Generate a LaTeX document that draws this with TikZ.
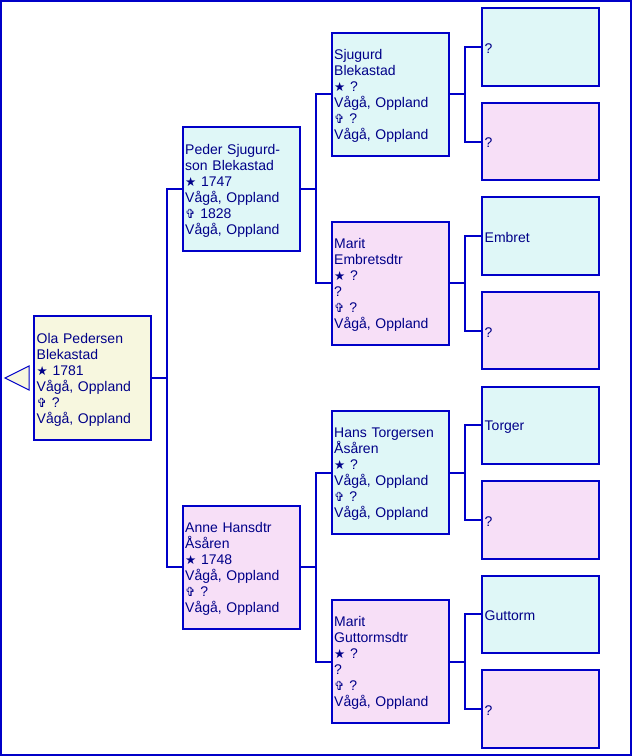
\documentclass[tikz,border=0pt]{standalone}
\usepackage{fontspec}
\setmainfont{Liberation Sans}
\newfontfamily\symfont{DejaVu Sans}
\definecolor{lineblue}{HTML}{0000C8}
\definecolor{txtblue}{HTML}{000088}
\definecolor{cyanfill}{HTML}{DFF7F7}
\definecolor{pinkfill}{HTML}{F7DFF7}
\definecolor{creamfill}{HTML}{F7F7DF}
\newcommand{\bstar}{{\symfont\fontsize{12.5}{16}\selectfont ★}}
\newcommand{\dcross}{{\symfont\fontsize{12.5}{16}\selectfont ✞}}
\newcommand{\person}[4]{%
  \node[#3] (#1) at #2 {};
  \node[ptext] (#1-t) at (#1.west) {#4};}
\begin{document}
\begin{tikzpicture}[x=1pt,y=-1pt,
  box/.style={draw=lineblue, line width=2pt, minimum width=117pt, inner sep=0pt},
  ptext/.style={anchor=west, text width=112pt, inner xsep=3.5pt, inner ysep=0pt, yshift=-1.5pt,
    align=left, font=\fontsize{14}{16}\selectfont, text=txtblue},
  big/.style={box, minimum height=123.4pt},
  small/.style={box, minimum height=77.4pt},
  male/.style={fill=cyanfill}, female/.style={fill=pinkfill}, rootc/.style={fill=creamfill},
  link/.style={draw=lineblue, line width=2pt}]
\useasboundingbox (0,0) rectangle (632,756);
\draw[lineblue, line width=2pt] (1,1) rectangle (631,755);
% triangle marker
\draw[lineblue, line width=1pt, fill=creamfill] (5,378) -- (29,366) -- (29,390) -- cycle;
% root
\person{root}{(92.5,378)}{big, rootc}{Ola Pedersen\\Blekastad\\\bstar\ 1781\\Vågå, Oppland\\\dcross\ ?\\Vågå, Oppland}
% generation 1
\person{p1}{(241,188.9)}{big, male}{Peder Sjugurd-\\son Blekastad\\\bstar\ 1747\\Vågå, Oppland\\\dcross\ 1828\\Vågå, Oppland}
\person{p2}{(241,567.2)}{big, female}{Anne Hansdtr\\Åsåren\\\bstar\ 1748\\Vågå, Oppland\\\dcross\ ?\\Vågå, Oppland}
% generation 2
\person{g1}{(390,94.3)}{big, male}{Sjugurd\\Blekastad\\\bstar\ ?\\Vågå, Oppland\\\dcross\ ?\\Vågå, Oppland}
\person{g2}{(390,283.4)}{big, female}{Marit\\Embretsdtr\\\bstar\ ?\\?\\\dcross\ ?\\Vågå, Oppland}
\person{g3}{(390,472.6)}{big, male}{Hans Torgersen\\Åsåren\\\bstar\ ?\\Vågå, Oppland\\\dcross\ ?\\Vågå, Oppland}
\person{g4}{(390,661.7)}{big, female}{Marit\\Guttormsdtr\\\bstar\ ?\\?\\\dcross\ ?\\Vågå, Oppland}
% generation 3
\person{h1}{(540.5,47.0)}{small, male}{?}
\person{h2}{(540.5,141.6)}{small, female}{?}
\person{h3}{(540.5,236.1)}{small, male}{Embret}
\person{h4}{(540.5,330.7)}{small, female}{?}
\person{h5}{(540.5,425.3)}{small, male}{Torger}
\person{h6}{(540.5,519.9)}{small, female}{?}
\person{h7}{(540.5,614.4)}{small, male}{Guttorm}
\person{h8}{(540.5,709.0)}{small, female}{?}
% junctions
\coordinate (j0) at (167,378);
\coordinate (j1) at (316,188.9);
\coordinate (j2) at (316,567.2);
\coordinate (k1) at (465,94.3);
\coordinate (k2) at (465,283.4);
\coordinate (k3) at (465,472.6);
\coordinate (k4) at (465,661.7);
% connectors
\draw[link] (root.east) -- (j0);
\draw[link] (j0) |- (p1.west);
\draw[link] (j0) |- (p2.west);
\draw[link] (p1.east) -- (j1);
\draw[link] (j1) |- (g1.west);
\draw[link] (j1) |- (g2.west);
\draw[link] (p2.east) -- (j2);
\draw[link] (j2) |- (g3.west);
\draw[link] (j2) |- (g4.west);
\draw[link] (g1.east) -- (k1);
\draw[link] (k1) |- (h1.west);
\draw[link] (k1) |- (h2.west);
\draw[link] (g2.east) -- (k2);
\draw[link] (k2) |- (h3.west);
\draw[link] (k2) |- (h4.west);
\draw[link] (g3.east) -- (k3);
\draw[link] (k3) |- (h5.west);
\draw[link] (k3) |- (h6.west);
\draw[link] (g4.east) -- (k4);
\draw[link] (k4) |- (h7.west);
\draw[link] (k4) |- (h8.west);
\end{tikzpicture}
\end{document}
